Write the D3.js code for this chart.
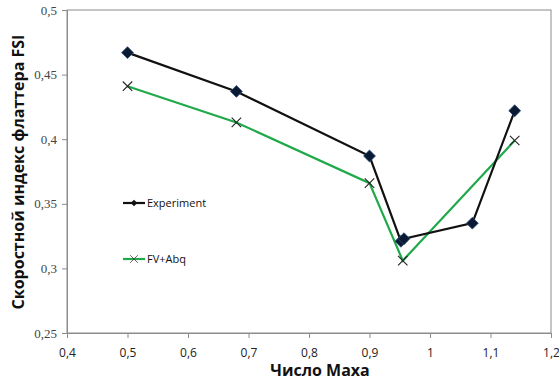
<!DOCTYPE html>
<html>
<head>
<meta charset="utf-8">
<script src="https://cdnjs.cloudflare.com/ajax/libs/d3/7.8.5/d3.min.js"></script>
<style>
  body { margin: 0; background: #fff; }
  svg { display: block; }
</style>
</head>
<body>
<svg id="chart" width="559" height="382"></svg>
<script>
// data
var expMach = [0.5, 0.68, 0.9, 0.952, 0.957, 1.07, 1.14];
var expFSI  = [0.467, 0.437, 0.387, 0.321, 0.323, 0.335, 0.422];
var fvMach  = [0.5, 0.68, 0.9, 0.955, 1.14];
var fvFSI   = [0.441, 0.413, 0.366, 0.306, 0.399];
var xTicks  = [0.4, 0.5, 0.6, 0.7, 0.8, 0.9, 1.0, 1.1, 1.2];
var yTicks  = [0.25, 0.3, 0.35, 0.4, 0.45, 0.5];
var seriesNames = ["Experiment", "FV+Abq"];

var svg = d3.select("#chart");
var mLeft = 67, mRight = 551, mTop = 10, mBottom = 333;

var x = d3.scaleLinear().domain([0.4, 1.2]).range([mLeft, mRight]);
var y = d3.scaleLinear().domain([0.25, 0.5]).range([mBottom, mTop]);
var fmt = d => String(+d.toFixed(2)).replace(".", ",");

// frame
svg.append("rect")
  .attr("x", mLeft).attr("y", mTop)
  .attr("width", mRight - mLeft).attr("height", mBottom - mTop)
  .attr("fill", "none").attr("stroke", "#8c8c8c").attr("stroke-width", 1);

var xAxis = svg.append("g")
  .attr("transform", "translate(0," + mBottom + ")")
  .call(d3.axisBottom(x).tickValues(xTicks).tickFormat(fmt).tickSize(5).tickPadding(10));
xAxis.selectAll("text").attr("font-family", "Open Sans, sans-serif").attr("font-size", 12).attr("fill", "#222");

var yAxis = svg.append("g")
  .attr("transform", "translate(" + mLeft + ",0)")
  .call(d3.axisLeft(y).tickValues(yTicks).tickFormat(fmt).tickSize(5).tickPadding(5));
yAxis.selectAll("text").attr("font-family", "Liberation Serif, serif").attr("font-size", 13).attr("fill", "#444");

svg.selectAll(".domain, .tick line").attr("stroke", "#8c8c8c");

// lines
var expData = expMach.map((m, i) => [m, expFSI[i]]);
var fvData = fvMach.map((m, i) => [m, fvFSI[i]]);
var line = d3.line().x(d => x(d[0])).y(d => y(d[1]));

svg.append("path").datum(fvData).attr("d", line)
  .attr("fill", "none").attr("stroke", "#1fa94a").attr("stroke-width", 2.2);
svg.append("path").datum(expData).attr("d", line)
  .attr("fill", "none").attr("stroke", "#111").attr("stroke-width", 2.2);

// markers
var diamond = d3.symbol().type(d3.symbolDiamond2).size(90);
svg.selectAll(".dia").data(expData).enter().append("path")
  .attr("transform", d => "translate(" + x(d[0]) + "," + y(d[1]) + ")")
  .attr("d", diamond).attr("fill", "#0a1a33").attr("stroke", "#2a4a7a").attr("stroke-width", 0.8);

var cross = d3.symbol().type(d3.symbolX).size(60);
svg.selectAll(".crs").data(fvData).enter().append("path")
  .attr("transform", d => "translate(" + x(d[0]) + "," + y(d[1]) + ")")
  .attr("d", cross).attr("fill", "none").attr("stroke", "#222").attr("stroke-width", 1.1);

// legend
var legY = [203, 259];
var legColors = ["#111", "#1fa94a"];
seriesNames.forEach(function (name, i) {
  var g = svg.append("g");
  g.append("line").attr("x1", 123).attr("x2", 145).attr("y1", legY[i]).attr("y2", legY[i])
    .attr("stroke", legColors[i]).attr("stroke-width", 2.2);
  var sym = i === 0 ? d3.symbol().type(d3.symbolDiamond2).size(28) : d3.symbol().type(d3.symbolX).size(40);
  g.append("path").attr("transform", "translate(134," + legY[i] + ")").attr("d", sym)
    .attr("fill", i === 0 ? "#111" : "none").attr("stroke", i === 0 ? "none" : "#444").attr("stroke-width", 0.8);
  g.append("text").attr("x", 147).attr("y", legY[i] + 4)
    .attr("font-family", "Open Sans, sans-serif").attr("font-size", 11).attr("fill", "#111").text(name);
});

// titles
svg.append("text").attr("x", 320).attr("y", 376).attr("text-anchor", "middle")
  .attr("font-family", "Open Sans, sans-serif").attr("font-weight", "bold").attr("font-size", 16)
  .attr("fill", "#111").text("Число Маха");

svg.append("text").attr("transform", "translate(24,172) rotate(-90)").attr("text-anchor", "middle")
  .attr("font-family", "Open Sans, sans-serif").attr("font-weight", "bold").attr("font-size", 16)
  .attr("fill", "#111").text("Скоростной индекс флаттера FSI");
</script>
</body>
</html>
